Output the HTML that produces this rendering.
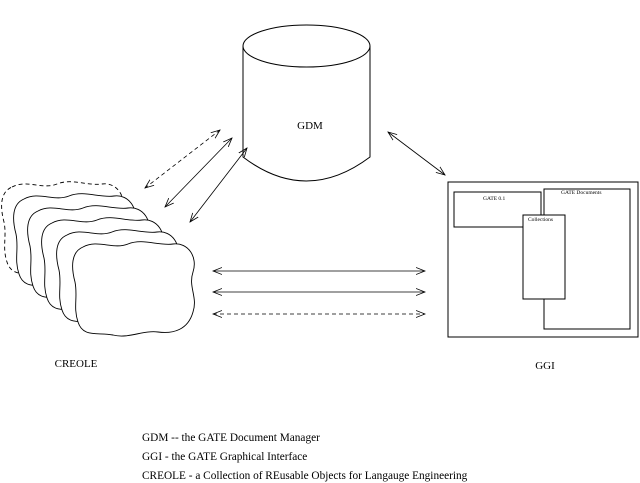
<!DOCTYPE html>
<html><head><style>
html,body{margin:0;padding:0;background:#fff;}
svg{display:block;}
text{font-family:"Liberation Serif",serif;fill:#000;}
</style></head><body>
<svg width="640" height="483" viewBox="0 0 640 483" xmlns="http://www.w3.org/2000/svg">
<defs>
<marker id="a" markerWidth="10" markerHeight="8" refX="9" refY="4" orient="auto-start-reverse" markerUnits="userSpaceOnUse">
<path d="M0,0.5 L9,4 L0,7.5" fill="none" stroke="#000" stroke-width="0.8"/>
</marker>
<path id="cl" d="M10,5 C25,-3 40,8 55,2 C70,-4 85,4 100,2 C115,0 125,15 120,30 C115,45 125,55 120,70 C115,88 100,92 85,90 C70,88 55,97 40,93 C25,90 10,96 5,80 C0,65 5,55 2,40 C-2,25 -2,10 10,5 Z"/>
</defs>
<g stroke="#000" stroke-width="1" fill="#fff">
<path d="M243,46 L243,157 Q306,205 370,157 L370,46" />
<ellipse cx="306.5" cy="46" rx="63.5" ry="21"/>
</g>
<text x="310" y="129" font-size="11" text-anchor="middle">GDM</text>
<g stroke="#000" stroke-width="0.9" fill="#fff">
<use href="#cl" transform="translate(2,182)" stroke-dasharray="4,3"/>
<use href="#cl" transform="translate(14,194)"/>
<use href="#cl" transform="translate(28,206)"/>
<use href="#cl" transform="translate(42,218)"/>
<use href="#cl" transform="translate(57,230)"/>
<use href="#cl" transform="translate(73,242)"/>
</g>
<text x="76" y="367" font-size="11" text-anchor="middle">CREOLE</text>
<g stroke="#000" stroke-width="0.8" fill="none">
<line x1="220" y1="130" x2="145" y2="188" stroke-dasharray="4,3" marker-start="url(#a)" marker-end="url(#a)"/>
<line x1="232" y1="138" x2="165" y2="207" marker-start="url(#a)" marker-end="url(#a)"/>
<line x1="247" y1="148" x2="190" y2="222" marker-start="url(#a)" marker-end="url(#a)"/>
<line x1="388" y1="132" x2="445" y2="175" marker-start="url(#a)" marker-end="url(#a)"/>
<line x1="213" y1="271" x2="425" y2="271" marker-start="url(#a)" marker-end="url(#a)"/>
<line x1="213" y1="292" x2="425" y2="292" marker-start="url(#a)" marker-end="url(#a)"/>
<line x1="213" y1="314" x2="425" y2="314" stroke-dasharray="4,3" marker-start="url(#a)" marker-end="url(#a)"/>
</g>
<g stroke="#000" stroke-width="1" fill="#fff">
<rect x="448" y="182" width="190" height="155"/>
<rect x="454" y="192" width="87" height="35"/>
<rect x="544" y="189" width="86" height="140"/>
<rect x="523" y="215" width="42" height="84"/>
</g>
<text x="483" y="200" font-size="5.5">GATE 0.1</text>
<text x="561" y="194" font-size="5.5">GATE Documents</text>
<text x="528" y="221" font-size="5.5">Collections</text>
<text x="545" y="369" font-size="11" text-anchor="middle">GGI</text>
<text x="142" y="441" font-size="11.3">GDM -- the GATE Document Manager</text>
<text x="142" y="460" font-size="11.3">GGI - the GATE Graphical Interface</text>
<text x="142" y="479" font-size="11.3">CREOLE - a Collection of REusable Objects for Langauge Engineering</text>
</svg>
</body></html>
